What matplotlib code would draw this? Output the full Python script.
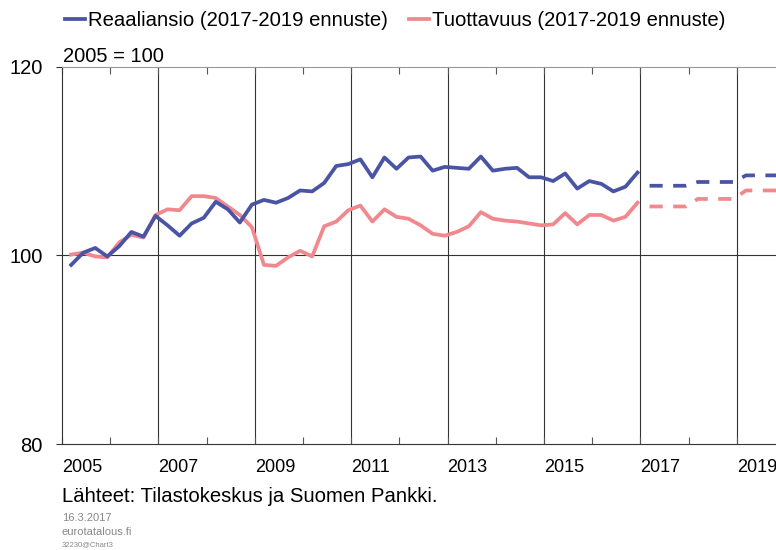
import numpy as np
import matplotlib
matplotlib.use("Agg")
import matplotlib.pyplot as plt

plt.rcParams["font.family"] = ["Liberation Sans", "DejaVu Sans"]

# ---------------------------------------------------------------- data
# neljännesvuosittain 2005Q1 - 2016Q4, 2005 = 100
reaaliansio = [
    99.0, 100.3, 100.8, 99.9, 101.0, 102.5, 102.0, 104.2,
    103.2, 102.1, 103.4, 104.0, 105.7, 104.9, 103.5, 105.4,
    105.9, 105.6, 106.1, 106.9, 106.8, 107.7, 109.5, 109.7,
    110.2, 108.3, 110.4, 109.2, 110.4, 110.5, 109.0, 109.4,
    109.3, 109.2, 110.5, 109.0, 109.2, 109.3, 108.3, 108.3,
    107.9, 108.7, 107.1, 107.9, 107.6, 106.8, 107.3, 108.8,
]
tuottavuus = [
    100.1, 100.3, 99.9, 99.8, 101.4, 102.2, 101.9, 104.3,
    104.9, 104.8, 106.3, 106.3, 106.1, 105.2, 104.3, 103.0,
    99.0, 98.9, 99.8, 100.5, 99.9, 103.1, 103.6, 104.8,
    105.3, 103.6, 104.9, 104.1, 103.9, 103.2, 102.3, 102.1,
    102.5, 103.1, 104.6, 103.9, 103.7, 103.6, 103.4, 103.2,
    103.3, 104.5, 103.3, 104.3, 104.3, 103.7, 104.1, 105.6,
]
# ennuste 2017Q1 - 2019Q4
reaaliansio_ennuste = [
    107.4, 107.4, 107.4, 107.4,
    107.8, 107.8, 107.8, 107.8,
    108.5, 108.5, 108.5, 108.5,
]
tuottavuus_ennuste = [
    105.2, 105.2, 105.2, 105.2,
    106.0, 106.0, 106.0, 106.0,
    106.9, 106.9, 106.9, 106.9,
]
year_labels = ["2005", "", "2007", "", "2009", "", "2011", "", "2013", "", "2015", "", "2017", "", "2019"]

BLUE = "#4a54a4"
PINK = "#f0888d"

# ---------------------------------------------------------------- plot
W, H = 776, 550
fig = plt.figure(figsize=(W / 100, H / 100), dpi=100)
ax = fig.add_axes([62 / W, (H - 444) / H, (W - 62) / W, (444 - 67) / H])

x_hist = 2005.19 + 0.25 * np.arange(len(reaaliansio))
x_fc = 2017.19 + 0.25 * np.arange(len(reaaliansio_ennuste))

# ristikko
for yr in range(2007, 2020, 2):
    ax.axvline(yr, color="#333333", lw=0.8, zorder=1)
ax.axhline(100, color="#333333", lw=0.8, zorder=1)

ax.plot(x_hist, reaaliansio, color=BLUE, lw=2.7, zorder=3,
        label="Reaaliansio (2017-2019 ennuste)")
ax.plot(x_hist, tuottavuus, color=PINK, lw=2.7, zorder=2,
        label="Tuottavuus (2017-2019 ennuste)")
ax.plot(x_fc, reaaliansio_ennuste, color=BLUE, lw=2.7, ls=(0, (3.5, 2.8)), zorder=3)
ax.plot(x_fc, tuottavuus_ennuste, color=PINK, lw=2.7, ls=(0, (3.5, 2.8)), zorder=2)

ax.set_xlim(2005, 2005 + (W - 62) / 48.2)
ax.set_ylim(80, 120)
ax.set_yticks([80, 100, 120])
ax.tick_params(axis="y", direction="out", length=4, width=0.8, color="#333333",
               labelsize=14.5, pad=10)

ax.set_xticks(range(2005, 2020))
ax.set_xticklabels(year_labels)
ax.tick_params(axis="x", direction="in", length=5, width=0.8, color="#555555",
               top=True, labelsize=13, pad=11)
for lbl in ax.get_xticklabels():
    lbl.set_horizontalalignment("left")

ax.spines["right"].set_visible(False)
ax.spines["top"].set_color("#999999")
ax.spines["left"].set_color("#333333")
ax.spines["bottom"].set_color("#333333")
for s in ax.spines.values():
    s.set_linewidth(0.8)

leg = fig.legend(loc="upper left", bbox_to_anchor=(57 / W, 1 - 3 / H), ncol=2,
                 frameon=False, fontsize=14.6, handlelength=1.0, handletextpad=0.15,
                 columnspacing=1.0, borderaxespad=0)

fig.text(63 / W, 1 - 57 / H, "2005 = 100", fontsize=14.5, va="center", ha="left")
fig.text(62 / W, 1 - 496 / H, "Lähteet: Tilastokeskus ja Suomen Pankki.",
         fontsize=14.6, va="center", ha="left")
fig.text(62 / W, 1 - 518 / H, "16.3.2017", fontsize=8, color="#888888",
         va="center", ha="left")
fig.text(62 / W, 1 - 532 / H, "eurotatalous.fi", fontsize=8, color="#888888",
         va="center", ha="left")
fig.text(62 / W, 1 - 545 / H, "32230@Chart3", fontsize=5.5, color="#888888",
         va="center", ha="left")

fig.savefig("out.png", dpi=100)
